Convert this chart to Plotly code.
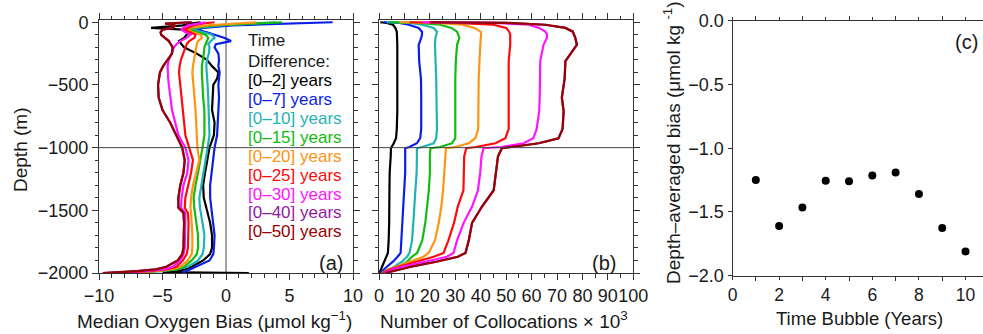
import plotly.graph_objects as go

# ---------------------------------------------------------------------------
# Data
# ---------------------------------------------------------------------------
TIME_WINDOWS = [2, 7, 10, 15, 20, 25, 30, 40, 50]
WINDOW_LABELS = [f"[0\u2013{w}] years" for w in TIME_WINDOWS]
COLORS = ["#000000", "#0a1ee8", "#1fb3b3", "#12bb12", "#ff9412",
          "#ff0a0a", "#ff14ff", "#941aa0", "#990000"]

# (a) median oxygen bias profiles (umol/kg) vs depth (m)
DEPTH_A = [0, -10, -25, -45, -60, -80, -100, -125, -150, -175, -200, -250, -300,
           -350, -400, -450, -500, -600, -700, -800, -900, -1000, -1100, -1200,
           -1300, -1400, -1480, -1520, -1600, -1700, -1800, -1850, -1900, -1950,
           -1970, -1985, -1992, -2000]

BIAS_2 = [-2.0, -2.8, -3.4, -5.9, -3.0, -2.8, -3.1, -3.3, -3.7, -3.5, -3.3, -2.3, -1.5,
          -1.1, -0.6, -0.7, -1.0, -1.05, -1.1, -0.9, -0.95, -1.3, -1.5, -1.65,
          -1.8, -1.75, -1.55, -1.45, -1.25, -1.1, -1.1, -1.25, -1.8, -2.7,
          -3.2, -3.8, -5.0, 1.8]
BIAS_7 = [8.4, 4.5, 0.5, -1.8, -2.3, -1.5, -0.8, -0.1, 0.4, -0.8, -0.9, -0.6, -0.55,
          -0.6, -0.5, -0.55, -0.6, -0.55, -0.6, -0.6, -0.7, -0.9, -1.0, -1.1,
          -1.25, -1.25, -1.15, -1.1, -1.0, -0.9, -0.95, -1.0, -1.3, -2.3,
          -2.8, -3.2, -3.3, -3.4]
BIAS_10 = [3.9, 2.0, -0.5, -2.3, -2.6, -1.8, -1.1, -0.9, -1.2, -1.4, -1.3, -1.35, -1.5,
           -1.55, -1.5, -1.45, -1.45, -1.4, -1.35, -1.3, -1.3, -1.45, -1.6, -1.75,
           -1.95, -2.1, -2.05, -2.0, -1.85, -1.7, -1.75, -1.85, -2.2, -3.0,
           -3.8, -5.0, -6.0, -7.3]
BIAS_15 = [4.4, 2.2, -0.8, -2.6, -2.8, -2.3, -1.6, -1.4, -1.5, -1.6, -1.7, -1.75, -1.85,
           -1.9, -1.9, -1.85, -1.85, -1.8, -1.7, -1.7, -1.7, -1.85, -2.0, -2.2,
           -2.4, -2.55, -2.5, -2.45, -2.3, -2.2, -2.2, -2.3, -2.7, -3.3,
           -3.8, -5.2, -6.3, -7.5]
BIAS_20 = [2.4, 0.8, -1.5, -2.9, -3.0, -2.6, -2.0, -1.9, -2.2, -2.3, -2.35, -2.45, -2.55,
           -2.6, -2.65, -2.6, -2.6, -2.5, -2.4, -2.35, -2.3, -2.25, -2.1, -2.35,
           -2.6, -2.75, -2.8, -2.75, -2.7, -2.65, -2.65, -2.7, -3.0, -3.6,
           -4.2, -5.5, -7.0, -8.5]
BIAS_25 = [-0.9, -1.8, -2.6, -3.0, -3.3, -2.8, -2.4, -2.5, -2.9, -3.1, -3.2, -3.4, -3.55,
           -3.65, -3.7, -3.65, -3.6, -3.55, -3.45, -3.35, -3.2, -2.9, -2.6, -2.75,
           -3.0, -3.2, -3.25, -3.0, -2.95, -2.95, -3.0, -3.1, -3.4, -3.9,
           -4.6, -6.0, -7.8, -9.4]
BIAS_30 = [-1.6, -2.2, -3.0, -3.4, -3.5, -3.2, -2.8, -3.1, -3.6, -3.9, -4.1, -4.3, -4.5,
           -4.6, -4.6, -4.55, -4.5, -4.4, -4.25, -4.0, -3.75, -3.2, -2.95, -3.05,
           -3.35, -3.5, -3.55, -3.2, -3.2, -3.2, -3.25, -3.35, -3.6, -4.2,
           -4.8, -6.5, -8.0, -9.0]
BIAS_40 = [-2.7, -4.8, -4.0, -4.2, -5.0, -5.15, -5.1, -4.8, -4.5, -4.35, -4.2, -4.25, -4.6,
           -4.95, -5.2, -5.3, -5.35, -5.3, -5.0, -4.4, -3.9, -3.45, -3.25, -3.35,
           -3.6, -3.75, -3.75, -3.35, -3.3, -3.3, -3.35, -3.45, -3.8, -4.7,
           -5.5, -7.0, -8.5, -9.7]
BIAS_50 = [-2.7, -4.8, -4.0, -4.2, -5.0, -5.15, -5.1, -4.8, -4.5, -4.35, -4.2, -4.25, -4.6,
           -4.95, -5.2, -5.3, -5.35, -5.3, -5.0, -4.4, -3.9, -3.45, -3.25, -3.35,
           -3.6, -3.75, -3.75, -3.35, -3.3, -3.3, -3.35, -3.45, -3.8, -4.7,
           -5.5, -7.0, -8.5, -9.7]

# (b) number of collocations (x 10^3) vs depth (m)
DEPTH_B = [0, -5, -20, -45, -75, -100, -125, -180, -310, -450, -600, -710, -850,
           -925, -965, -995, -1005, -1070, -1200, -1340, -1470, -1600, -1740,
           -1840, -1870, -1910, -1950, -1975, -2000]

COUNT_2 = [0.5, 3.0, 5.5, 6.4, 7.0, 7.1, 7.1, 7.2, 7.2, 7.3, 7.3, 7.2, 7.0,
           6.7, 5.8, 5.0, 4.7, 4.6, 4.2, 4.1, 4.1, 4.0, 3.8,
           3.5, 2.9, 2.2, 1.2, 0.7, 0.1]
COUNT_7 = [2.0, 8.0, 11.7, 15.6, 16.9, 16.9, 16.6, 15.6, 15.8, 16.5, 16.6, 16.6, 16.6,
           16.2, 14.9, 12.0, 10.3, 10.3, 10.3, 9.9, 9.6, 9.3, 8.9,
           8.5, 7.3, 5.5, 3.1, 1.8, 0.5]
COUNT_10 = [3.0, 12.0, 17.0, 21.5, 22.8, 22.5, 22.2, 22.0, 22.3, 22.5, 22.6, 22.7, 22.8,
            22.5, 21.5, 17.0, 14.9, 14.9, 14.8, 14.3, 14.0, 13.5, 13.0,
            12.0, 11.0, 9.0, 6.0, 3.5, 1.2]
COUNT_15 = [4.0, 15.0, 24.0, 28.5, 30.7, 31.3, 31.6, 30.7, 30.2, 30.0, 30.0, 30.1, 30.2,
            30.0, 28.7, 24.0, 20.2, 20.0, 20.0, 19.6, 18.9, 18.2, 17.0,
            15.0, 13.0, 11.0, 7.7, 4.5, 1.2]
COUNT_20 = [8.0, 22.0, 33.0, 37.5, 40.0, 40.2, 40.0, 39.8, 39.5, 39.2, 39.2, 39.2, 39.0,
            37.9, 35.3, 30.0, 26.3, 26.1, 25.8, 25.2, 24.5, 23.5, 22.0,
            19.5, 17.5, 12.0, 6.4, 3.5, 1.2]
COUNT_25 = [12.0, 30.0, 45.0, 50.0, 51.2, 51.6, 51.6, 51.6, 51.0, 51.0, 51.0, 51.0, 51.0,
            49.7, 45.8, 38.0, 34.3, 33.5, 33.3, 33.2, 31.0, 29.5, 27.3,
            25.4, 21.5, 14.3, 7.7, 4.0, 1.4]
COUNT_30 = [17.0, 45.0, 58.8, 63.0, 65.4, 66.1, 66.0, 64.7, 63.4, 63.4, 63.2, 63.0, 62.0,
            60.7, 56.9, 48.0, 41.1, 40.3, 39.8, 38.9, 36.6, 33.3, 30.7,
            29.3, 26.7, 18.2, 9.0, 5.0, 2.0]
COUNT_40 = [20.0, 50.0, 65.4, 73.3, 76.2, 76.8, 77.2, 77.8, 73.3, 73.0, 71.9, 72.6, 72.2,
            70.6, 62.8, 52.0, 48.3, 46.8, 46.0, 45.1, 40.5, 36.6, 35.3,
            34.0, 31.0, 22.5, 12.5, 7.0, 2.5]
COUNT_50 = [20.0, 50.0, 65.4, 73.3, 76.2, 76.8, 77.2, 77.8, 73.3, 73.0, 71.9, 72.6, 72.2,
            70.6, 62.8, 52.0, 48.3, 46.8, 46.0, 45.1, 40.5, 36.6, 35.3,
            34.0, 31.0, 22.5, 12.5, 7.0, 2.5]

# (c) depth-averaged bias per time bubble
BUBBLE_YEARS = [1, 2, 3, 4, 5, 6, 7, 8, 9, 10]
DEPTH_AVG_BIAS = [-1.25, -1.61, -1.465, -1.255, -1.26, -1.215, -1.19, -1.36, -1.625, -1.81]

REF_DEPTH = -1000

BIAS_SERIES = [BIAS_2, BIAS_7, BIAS_10, BIAS_15, BIAS_20, BIAS_25, BIAS_30, BIAS_40, BIAS_50]
COUNT_SERIES = [COUNT_2, COUNT_7, COUNT_10, COUNT_15, COUNT_20, COUNT_25, COUNT_30,
                COUNT_40, COUNT_50]

# ---------------------------------------------------------------------------
# Layout helpers (page is 983 x 334 px, no margins)
# ---------------------------------------------------------------------------
W, H = 983, 334
FONT = "Liberation Sans, Arial, Helvetica, sans-serif"
INK = "#1a1a1a"
FRAME = "#333333"


def fx(px):
    return px / W


def fy(py):
    return 1 - py / H


fig = go.Figure()

for vals, col, lab in zip(BIAS_SERIES, COLORS, WINDOW_LABELS):
    fig.add_trace(go.Scatter(x=vals, y=DEPTH_A, mode="lines", name=lab,
                             line=dict(color=col, width=2.2), xaxis="x", yaxis="y"))

for vals, col, lab in zip(COUNT_SERIES, COLORS, WINDOW_LABELS):
    fig.add_trace(go.Scatter(x=vals, y=DEPTH_B, mode="lines", name=lab,
                             line=dict(color=col, width=2.2), xaxis="x2", yaxis="y2"))

fig.add_trace(go.Scatter(x=BUBBLE_YEARS, y=DEPTH_AVG_BIAS, mode="markers",
                         marker=dict(color="black", size=8), xaxis="x3", yaxis="y3"))


def axis(**kw):
    base = dict(showline=True, linecolor=FRAME, linewidth=1, mirror="allticks",
                ticks="outside", ticklen=6, tickwidth=1, tickcolor=FRAME,
                showgrid=False, zeroline=False, automargin=False, tickangle=0,
                tickfont=dict(size=18, color=INK, family=FONT))
    base.update(kw)
    return base


minor_style = dict(ticks="outside", ticklen=3.5, tickwidth=1, tickcolor=FRAME, showgrid=False)

y_ab = [fy(273), fy(20)]

fig.update_layout(
    width=W, height=H, template="none",
    margin=dict(l=0, r=0, t=0, b=0),
    paper_bgcolor="white", plot_bgcolor="white",
    showlegend=False,
    font=dict(family=FONT, size=18, color=INK),
    xaxis=axis(domain=[fx(99), fx(353)], range=[-10, 10], tick0=0, dtick=5,
               minor=dict(dtick=1, **minor_style), anchor="y"),
    yaxis=axis(domain=y_ab, range=[-2000, 18], tick0=0, dtick=500,
               minor=dict(dtick=100, **minor_style), anchor="x"),
    xaxis2=axis(domain=[fx(379), fx(633.3)], range=[0, 100], tick0=0, dtick=10,
                minor=dict(dtick=5, **minor_style), anchor="y2"),
    yaxis2=axis(domain=y_ab, range=[-2000, 18], tick0=0, dtick=500,
                minor=dict(dtick=100, **minor_style), anchor="x2",
                showticklabels=False),
    xaxis3=axis(domain=[fx(732.5), 1.0], range=[0, 10.75], tick0=0, dtick=2,
                minor=dict(dtick=1, ticks="outside", ticklen=4, tickwidth=1,
                           tickcolor=FRAME, showgrid=False),
                ticklen=3, tickfont=dict(size=17.5, color=INK, family=FONT),
                anchor="y3"),
    yaxis3=axis(domain=[fy(275.7), fy(20.7)], range=[-2, 0], tick0=0, dtick=0.5,
                tickformat=".1f", mirror=False, ticklen=4, anchor="x3"),
)

# reference lines
for xr, yr in (("x", "y"), ("x2", "y2")):
    fig.add_shape(type="line", xref=f"{xr} domain", yref=yr, x0=0, x1=1,
                  y0=REF_DEPTH, y1=REF_DEPTH, line=dict(color="#444444", width=1))
fig.add_shape(type="line", xref="x", yref="y domain", x0=0, x1=0, y0=0, y1=1,
              line=dict(color="#444444", width=1), layer="below")

ann = []
# legend text for the time-difference windows
ann.append(dict(text="Time", x=fx(246), y=fy(40), font=dict(color=INK)))
ann.append(dict(text="Difference:", x=fx(246), y=fy(61), font=dict(color=INK)))
for i, (lab, col) in enumerate(zip(WINDOW_LABELS, COLORS)):
    ann.append(dict(text=lab, x=fx(246), y=fy(81 + 18.85 * i), font=dict(color=col)))
for a in ann:
    a.update(xref="paper", yref="paper", xanchor="left", yanchor="middle",
             showarrow=False)
    a["font"].update(size=17, family=FONT)

panel_labels = [("(a)", 331, 263), ("(b)", 604, 263), ("(c)", 966, 42)]
for txt, px_, py_ in panel_labels:
    ann.append(dict(text=txt, x=fx(px_), y=fy(py_), xref="paper", yref="paper",
                    xanchor="center", yanchor="middle", showarrow=False,
                    font=dict(size=20, color=INK, family=FONT)))

titles = [
    ("Depth (m)", 20, 150, -90, 19),
    ("Median Oxygen Bias (\u03bcmol kg<sup>\u22121</sup>)", 214, 320, 0, 19),
    ("Number of Collocations \u00d7 10<sup>3</sup>", 504, 320, 0, 19),
    ("Time Bubble (Years)", 859, 318, 0, 18.5),
    ("Depth\u2013averaged bias (\u03bcmol kg <sup>-1</sup>)", 672, 143, -90, 19),
]
for txt, px_, py_, rot, size in titles:
    ann.append(dict(text=txt, x=fx(px_), y=fy(py_), xref="paper", yref="paper",
                    xanchor="center", yanchor="middle", showarrow=False, textangle=rot,
                    font=dict(size=size, color=INK, family=FONT)))

fig.update_layout(annotations=ann)

fig.write_html("out.html")
